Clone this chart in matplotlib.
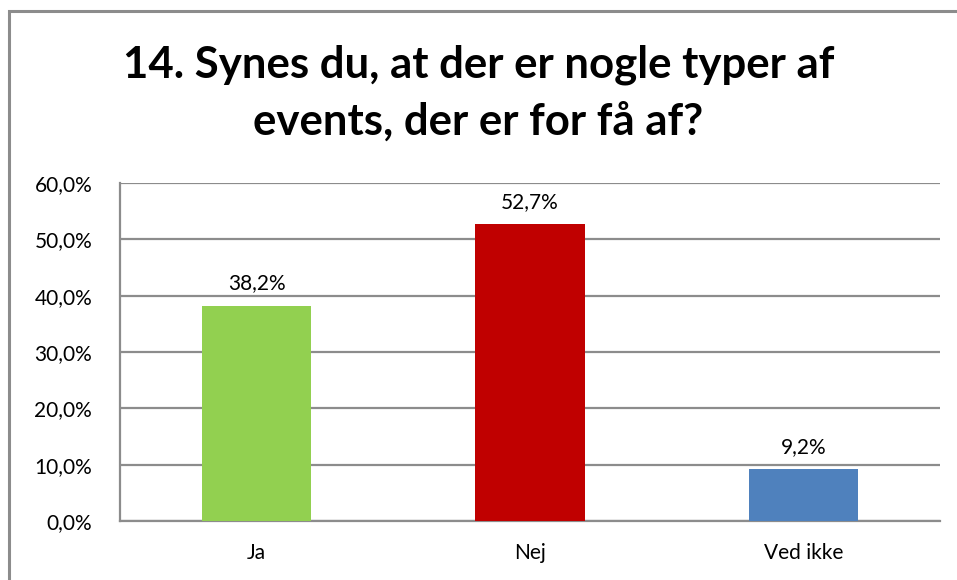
import matplotlib
matplotlib.use('Agg')
import matplotlib.pyplot as plt
from matplotlib.patches import Rectangle
from matplotlib.ticker import FuncFormatter

categories = ['Ja', 'Nej', 'Ved ikke']
values = [38.2, 52.7, 9.2]
colors = ['#92D050', '#C00000', '#4F81BD']
title_lines = ['14. Synes du, at der er nogle typer af', 'events, der er for få af?']

plt.rcParams['font.family'] = ['Lato', 'DejaVu Sans']

fig = plt.figure(figsize=(9.57, 5.8), dpi=100)
W, H = 957, 580
ax = fig.add_axes([120 / W, 1 - 521 / H, 820 / W, 338 / H])

# chart border (runs off right/bottom edge)
fig.patches.append(Rectangle((9 / W, -0.1), 1.2, 1 - 11 / H + 0.1,
                             transform=fig.transFigure, fill=False,
                             edgecolor='#8c8c8c', linewidth=2.2))

x = range(len(categories))
ax.bar(x, values, width=0.4, color=colors, zorder=3)
for xi, v in zip(x, values):
    ax.text(xi, v + 2.2, f'{v:.1f}%'.replace('.', ','), ha='center', va='bottom',
            fontsize=15)

ax.set_xlim(-0.5, 2.5)
ax.set_ylim(0, 60)
ax.set_yticks(range(0, 61, 10))
ax.yaxis.set_major_formatter(FuncFormatter(lambda v, p: f'{v:.1f}%'.replace('.', ',')))
ax.set_xticks(list(x))
ax.set_xticklabels(categories)
ax.tick_params(axis='both', length=0, labelsize=15, colors='black')
ax.tick_params(axis='y', pad=20)
ax.tick_params(axis='x', pad=16)
ax.grid(axis='y', color='#8c8c8c', linewidth=1.6, zorder=0)
for s in ['top', 'right']:
    ax.spines[s].set_visible(False)
for s in ['left', 'bottom']:
    ax.spines[s].set_color('#8c8c8c')
    ax.spines[s].set_linewidth(1.6)

# title, two lines placed on their baselines
for line, base in zip(title_lines, [78, 135]):
    fig.text(0.5, 1 - base / H, line, ha='center', va='baseline', fontsize=31.5,
             fontweight='bold')

fig.savefig('out.png', dpi=100)
